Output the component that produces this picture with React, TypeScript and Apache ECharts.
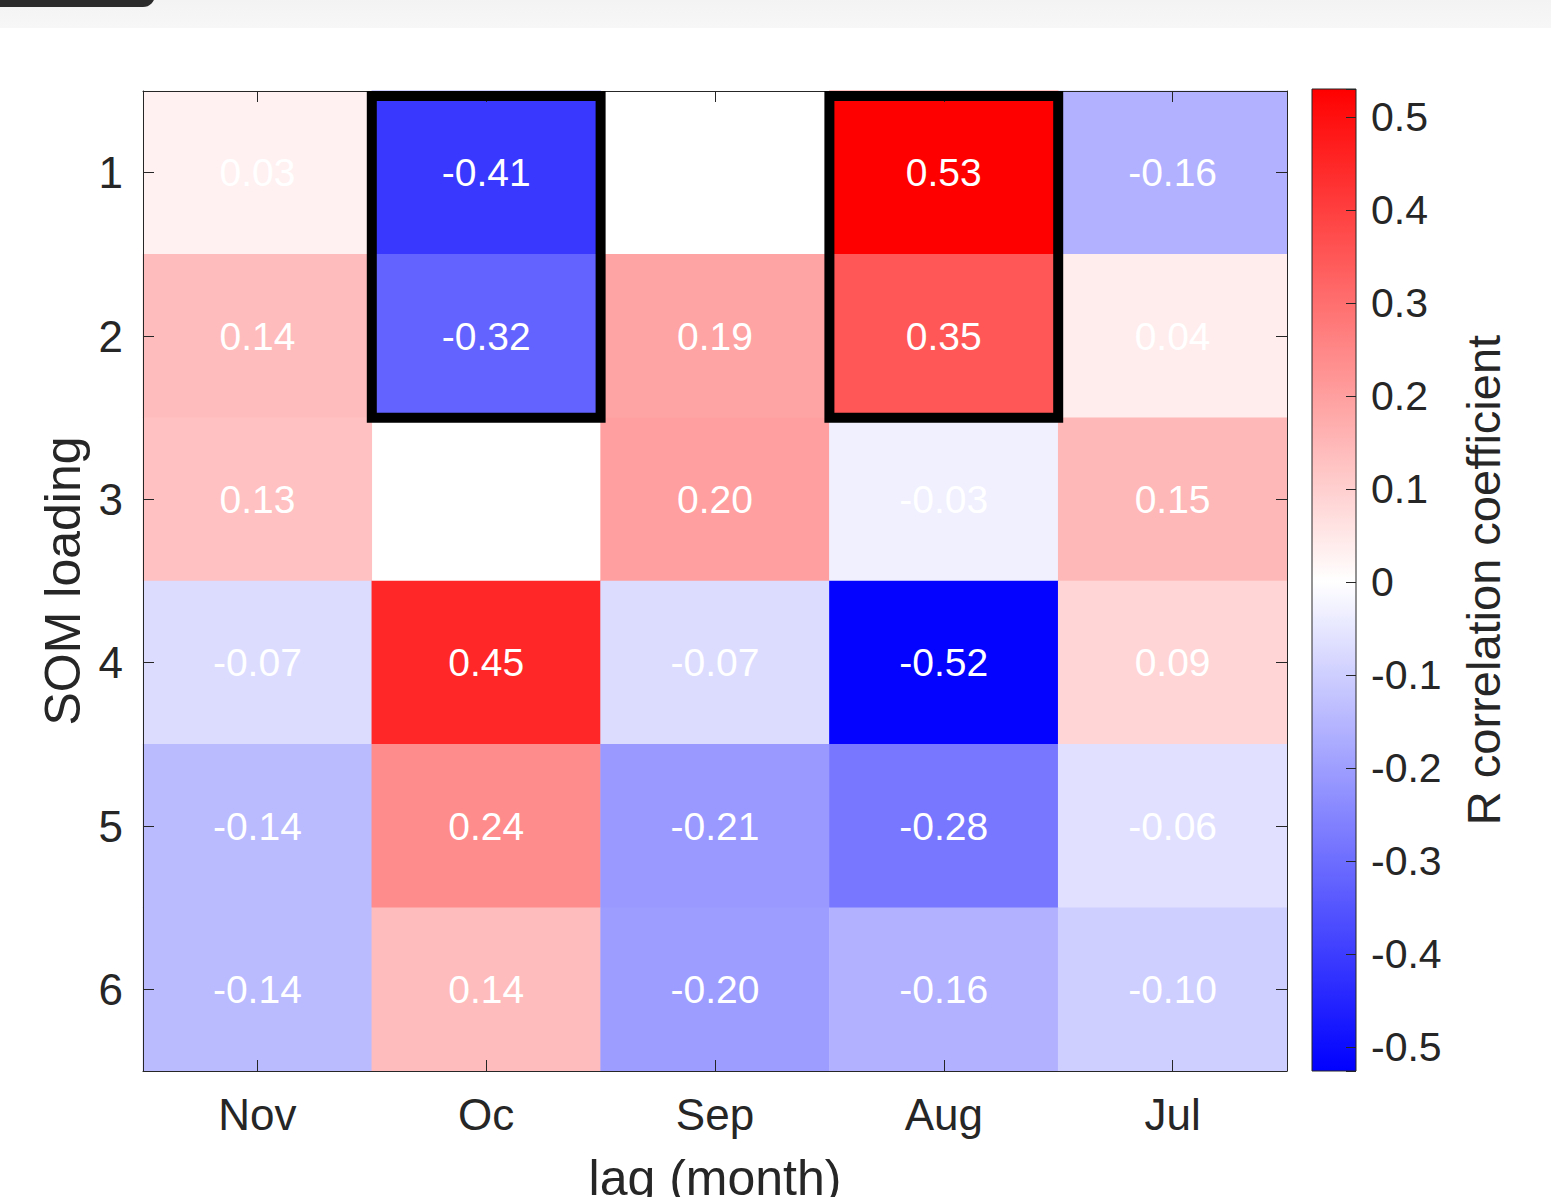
import React, { useEffect, useRef } from 'react';
import * as echarts from 'echarts';

const lagMonths = ['Nov', 'Oc', 'Sep', 'Aug', 'Jul'];
const somLoadings = ['1', '2', '3', '4', '5', '6'];

// R correlation per SOM loading (row) and lag month (column); null = blank cell
const loading1 = [0.03, -0.41, null, 0.53, -0.16];
const loading2 = [0.14, -0.32, 0.19, 0.35, 0.04];
const loading3 = [0.13, null, 0.20, -0.03, 0.15];
const loading4 = [-0.07, 0.45, -0.07, -0.52, 0.09];
const loading5 = [-0.14, 0.24, -0.21, -0.28, -0.06];
const loading6 = [-0.14, 0.14, -0.20, -0.16, -0.10];
const correlationRows = [loading1, loading2, loading3, loading4, loading5, loading6];

// highlighted blocks: [column index, first row index, last row index]
const highlightBoxes = [
  [1, 0, 1],
  [3, 0, 1],
];

const colorMin = -0.526;
const colorMax = 0.53;

const TXT = '#262626';
const FONT = '"Liberation Sans", Arial, Helvetica, sans-serif';

export default function App() {
  const ref = useRef<HTMLDivElement>(null);

  useEffect(() => {
    if (!ref.current) return;
    const chart = echarts.init(ref.current, null, { renderer: 'svg' });

    const heatData: any[] = [];
    correlationRows.forEach((row, r) => {
      row.forEach((v, c) => {
        if (v !== null) heatData.push([c, r, v]);
      });
    });

    const zeroOffset = (colorMax - 0) / (colorMax - colorMin);

    const option: any = {
      animation: false,
      backgroundColor: '#ffffff',
      textStyle: { fontFamily: FONT },
      graphic: [
        {
          type: 'rect',
          shape: { x: 0, y: 0, width: 1551, height: 28 },
          style: {
            fill: new echarts.graphic.LinearGradient(0, 0, 0, 1, [
              { offset: 0, color: '#f3f3f3' },
              { offset: 1, color: '#f7f7f7' },
            ]),
          },
          z: 0,
        },
        {
          type: 'rect',
          shape: { x: -20, y: -20, width: 175, height: 27, r: 12 },
          style: { fill: '#2b2b2b' },
          z: 1,
        },
      ],
      grid: [
        { left: 143, top: 91, width: 1144, height: 980, outerBoundsMode: 'none', containLabel: false },
        { left: 1312, top: 89, width: 44, height: 982, outerBoundsMode: 'none', containLabel: false },
      ],
      xAxis: [
        {
          type: 'category',
          gridIndex: 0,
          data: lagMonths,
          position: 'bottom',
          z: 5,
          name: 'lag (month)',
          nameLocation: 'middle',
          nameGap: 82,
          nameTextStyle: { fontSize: 50, color: TXT, fontFamily: FONT },
          axisLine: { show: true, onZero: false, lineStyle: { color: TXT, width: 1 } },
          axisTick: { show: true, inside: true, alignWithLabel: true, length: 11, lineStyle: { color: TXT } },
          axisLabel: { fontSize: 44, color: TXT, margin: 21, fontFamily: FONT },
          splitLine: { show: false },
        },
        {
          type: 'category',
          gridIndex: 0,
          data: lagMonths,
          position: 'top',
          z: 5,
          axisLine: { show: true, onZero: false, lineStyle: { color: TXT, width: 1 } },
          axisTick: { show: true, inside: true, alignWithLabel: true, length: 11, lineStyle: { color: TXT } },
          axisLabel: { show: false },
          splitLine: { show: false },
        },
        {
          type: 'category',
          gridIndex: 1,
          data: ['cb'],
          position: 'bottom',
          axisLine: { show: false, onZero: false },
          axisTick: { show: false },
          axisLabel: { show: false },
          splitLine: { show: false },
        },
      ],
      yAxis: [
        {
          type: 'category',
          gridIndex: 0,
          data: somLoadings,
          inverse: true,
          position: 'left',
          z: 5,
          name: 'SOM loading',
          nameLocation: 'middle',
          nameGap: 48,
          nameRotate: 90,
          nameTextStyle: { fontSize: 50, color: TXT, fontFamily: FONT },
          axisLine: { show: true, onZero: false, lineStyle: { color: TXT, width: 1 } },
          axisTick: { show: true, inside: true, alignWithLabel: true, length: 11, lineStyle: { color: TXT } },
          axisLabel: { fontSize: 44, color: TXT, margin: 20, fontFamily: FONT },
          splitLine: { show: false },
        },
        {
          type: 'category',
          gridIndex: 0,
          data: somLoadings,
          inverse: true,
          position: 'right',
          z: 5,
          axisLine: { show: true, onZero: false, lineStyle: { color: TXT, width: 1 } },
          axisTick: { show: true, inside: true, alignWithLabel: true, length: 11, lineStyle: { color: TXT } },
          axisLabel: { show: false },
          splitLine: { show: false },
        },
        {
          type: 'value',
          gridIndex: 1,
          min: colorMin,
          max: colorMax,
          splitNumber: 10,
          position: 'right',
          z: 10,
          name: 'R correlation coefficient',
          nameLocation: 'middle',
          nameGap: 104,
          nameRotate: 90,
          nameTextStyle: { fontSize: 47, color: TXT, fontFamily: FONT },
          axisLine: { show: false, onZero: false },
          axisTick: { show: true, inside: true, length: 10, lineStyle: { color: TXT } },
          axisLabel: {
            fontSize: 41,
            color: TXT,
            margin: 15,
            fontFamily: FONT,
            formatter: (v: number) => {
              const t = v * 10;
              if (Math.abs(t - Math.round(t)) > 1e-6) return '';
              return String(Math.round(t) / 10);
            },
          },
          splitLine: { show: false },
        },
      ],
      visualMap: {
        type: 'continuous',
        show: false,
        seriesIndex: 0,
        dimension: 2,
        min: colorMin,
        max: colorMax,
        inRange: { color: ['#0000ff', '#ffffff', '#ff0000'] },
      },
      series: [
        {
          type: 'heatmap',
          xAxisIndex: 0,
          yAxisIndex: 0,
          data: heatData,
          z: 2,
          label: {
            show: true,
            color: '#ffffff',
            fontSize: 39,
            fontFamily: FONT,
            formatter: (p: any) => Number(p.value[2]).toFixed(2),
          },
          itemStyle: { borderWidth: 0 },
          emphasis: { disabled: true },
        },
        {
          type: 'custom',
          xAxisIndex: 0,
          yAxisIndex: 0,
          z: 10,
          clip: false,
          silent: true,
          encode: { x: 0, y: 1 },
          data: highlightBoxes,
          renderItem: (params: any, api: any) => {
            const col = api.value(0);
            const r0 = api.value(1);
            const r1 = api.value(2);
            const size = api.size([1, 1]);
            const pTop = api.coord([col, r0]);
            const pBot = api.coord([col, r1]);
            const x = pTop[0] - size[0] / 2;
            const yTop = pTop[1] - size[1] / 2 + 5;
            const yBot = pBot[1] + size[1] / 2;
            return {
              type: 'rect',
              shape: { x, y: yTop, width: size[0], height: yBot - yTop },
              style: { fill: 'none', stroke: '#000000', lineWidth: 10 },
            };
          },
        },
        {
          type: 'custom',
          xAxisIndex: 2,
          yAxisIndex: 2,
          z: 1,
          silent: true,
          encode: { x: 0, y: 1 },
          data: [[0, 0]],
          renderItem: (params: any, api: any) => {
            const cs = params.coordSys;
            const top = api.coord([0, colorMax])[1];
            const bottom = api.coord([0, colorMin])[1];
            return {
              type: 'rect',
              shape: { x: cs.x, y: top, width: cs.width, height: bottom - top },
              style: {
                fill: new echarts.graphic.LinearGradient(0, 0, 0, 1, [
                  { offset: 0, color: '#ff0000' },
                  { offset: zeroOffset, color: '#ffffff' },
                  { offset: 1, color: '#0000ff' },
                ]),
                stroke: TXT,
                lineWidth: 1,
              },
            };
          },
        },
      ],
    };

    chart.setOption(option);
    return () => chart.dispose();
  }, []);

  return (
    <div
      ref={ref}
      style={{ position: 'absolute', left: 0, top: 0, width: 1551, height: 1197 }}
    />
  );
}
